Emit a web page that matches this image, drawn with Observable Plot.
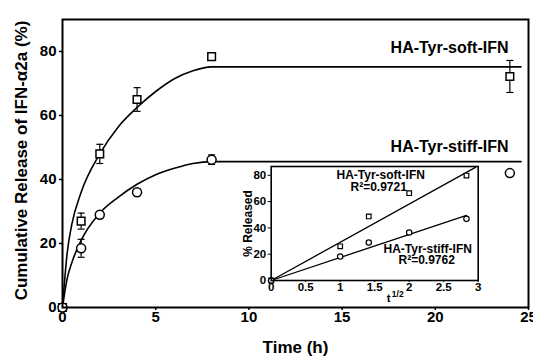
<!DOCTYPE html>
<html><head><meta charset="utf-8">
<script src="https://cdn.jsdelivr.net/npm/d3@7"></script>
<script src="https://cdn.jsdelivr.net/npm/@observablehq/plot@0.6"></script>
<style>
body{margin:0;background:#fff;}
#wrap{position:relative;width:533px;height:358px;overflow:hidden;}
#wrap svg{position:absolute;}
</style></head><body><div id="wrap"></div>
<script>
// ---- main chart data ----
const times = [0, 1, 2, 4, 8, 24];
const softRelease = [0, 27, 48, 65, 78.4, 72.2];
const softError = [0, 2.5, 3, 3.7, 1, 5];
const stiffRelease = [0, 18.5, 29, 36, 46.2, 42];
const stiffError = [0, 2.8, 1, 1, 1.5, 0];

// fitted curves (knots)
const curveTimes = [0, 0.25, 0.5, 1, 2, 3, 4, 5, 6, 7, 8, 24.6];
const softCurve = [0, 17, 26, 36, 48, 56.5, 62.5, 67.5, 71.5, 74, 75.2, 75.2];
const stiffCurve = [0, 9, 14, 21, 29.5, 34.5, 38.5, 41.5, 43.5, 45, 45.6, 45.6];

const xTicks = [0, 5, 10, 15, 20, 25];
const yTicks = [0, 20, 40, 60, 80];
const softName = "HA-Tyr-soft-IFN";
const stiffName = "HA-Tyr-stiff-IFN";
const yTitle = "Cumulative Release of IFN-\u03b12a (%)";
const xTitle = "Time (h)";

// ---- inset data ----
const sqrtTimes = [0, 1, 1.414, 2, 2.83];
const insetSoft = [0, 26, 48.7, 66.4, 79.8];
const insetStiff = [0, 18.2, 28.9, 36.5, 46.9];
const softFitX = [0, 2.96];
const softFitY = [0, 86];
const stiffFitX = [0, 2.83];
const stiffFitY = [0, 49.5];
const insetXTicks = [0, 0.5, 1, 1.5, 2, 2.5, 3];
const insetYTicks = [0, 20, 40, 60, 80];
const softR2 = "R\u00b2=0.9721";
const stiffR2 = "R\u00b2=0.9762";
const insetYTitle = "% Released";
const insetXTitle = "t";
const insetXSup = "1/2";

// ---- tables ----
const soft = times.map((t, i) => ({t, v: softRelease[i], e: softError[i]}));
const stiff = times.map((t, i) => ({t, v: stiffRelease[i], e: stiffError[i]}));
const errs = [...soft, ...stiff].filter(d => d.e > 0).map(d => ({t: d.t, lo: d.v - d.e, hi: d.v + d.e}));
const softC = curveTimes.map((t, i) => ({t, v: softCurve[i]}));
const stiffC = curveTimes.map((t, i) => ({t, v: stiffCurve[i]}));

const cap = {draw(ctx) { ctx.moveTo(-3.5, 0); ctx.lineTo(3.5, 0); }};
const font = "'Liberation Sans', Arial, Helvetica, sans-serif";
const T = {text: d => d, textAnchor: "middle", lineAnchor: "middle"};

const main = Plot.plot({
  width: 533, height: 358,
  marginLeft: 62, marginRight: 5, marginTop: 19, marginBottom: 51,
  x: {domain: [0, 25]},
  y: {domain: [0, 90]},
  style: {fontFamily: font, fontWeight: "bold", color: "black", background: "transparent"},
  marks: [
    Plot.axisX({ticks: xTicks, tickSize: 3, tickPadding: 1, fontSize: 15, label: null, strokeWidth: 1.5}),
    Plot.axisY({ticks: yTicks, tickSize: 3, tickPadding: 3, fontSize: 15, label: null, strokeWidth: 1.5}),
    Plot.line(softC, {x: "t", y: "v", curve: "monotone-x", stroke: "black", strokeWidth: 1.6}),
    Plot.line(stiffC, {x: "t", y: "v", curve: "monotone-x", stroke: "black", strokeWidth: 1.6}),
    Plot.ruleX(errs, {x: "t", y1: "lo", y2: "hi", stroke: "black", strokeWidth: 1.2}),
    Plot.dot(errs, {x: "t", y: "hi", symbol: cap, stroke: "black", strokeWidth: 1.2}),
    Plot.dot(errs, {x: "t", y: "lo", symbol: cap, stroke: "black", strokeWidth: 1.2}),
    Plot.dot(soft, {x: "t", y: "v", symbol: "square", r: 4.3, fill: "white", stroke: "black", strokeWidth: 1.5}),
    Plot.dot(stiff, {x: "t", y: "v", symbol: "circle", r: 4.5, fill: "white", stroke: "black", strokeWidth: 1.5}),
    Plot.frame({stroke: "black", strokeWidth: 2}),
    Plot.text([softName], {text: d => d, lineAnchor: "middle", frameAnchor: "top-right", textAnchor: "end", dx: -20, dy: 28, fontSize: 16}),
    Plot.text([stiffName], {text: d => d, lineAnchor: "middle", frameAnchor: "top-right", textAnchor: "end", dx: -20, dy: 127, fontSize: 16}),
    Plot.text([yTitle], {...T, frameAnchor: "left", rotate: -90, dx: -41, dy: -3, fontSize: 17}),
    Plot.text([xTitle], {...T, frameAnchor: "bottom", dy: 40, fontSize: 17})
  ]
});
main.style.left = "0px"; main.style.top = "0px";

const iSoft = sqrtTimes.map((x, i) => ({x, v: insetSoft[i]}));
const iStiff = sqrtTimes.map((x, i) => ({x, v: insetStiff[i]}));
const iSoftFit = softFitX.map((x, i) => ({x, v: softFitY[i]}));
const iStiffFit = stiffFitX.map((x, i) => ({x, v: stiffFitY[i]}));

const inset = Plot.plot({
  width: 256, height: 145,
  marginLeft: 38.7, marginRight: 10.3, marginTop: 6, marginBottom: 25,
  x: {domain: [0, 3]},
  y: {domain: [0, 86.7]},
  style: {fontFamily: font, fontWeight: "bold", color: "black", background: "transparent"},
  marks: [
    Plot.frame({fill: "white"}),
    Plot.axisX({ticks: insetXTicks, tickFormat: d => String(d), tickSize: 2, tickPadding: 0, fontSize: 11.5, label: null}),
    Plot.axisY({ticks: insetYTicks, tickFormat: d => String(d), tickSize: 3, tickPadding: 2, fontSize: 11.5, label: null}),
    Plot.line(iSoftFit, {x: "x", y: "v", stroke: "black", strokeWidth: 1.3}),
    Plot.line(iStiffFit, {x: "x", y: "v", stroke: "black", strokeWidth: 1.3}),
    Plot.dot(iSoft, {x: "x", y: "v", symbol: "square", r: 2.6, fill: "white", stroke: "black", strokeWidth: 1.2}),
    Plot.dot(iStiff, {x: "x", y: "v", symbol: "circle", r: 2.7, fill: "white", stroke: "black", strokeWidth: 1.2}),
    Plot.frame({stroke: "black", strokeWidth: 1.6}),
    Plot.text([softName], {...T, frameAnchor: "top", dx: 6, dy: 9, fontSize: 12}),
    Plot.text([softR2], {...T, frameAnchor: "top", dx: 4, dy: 21, fontSize: 12}),
    Plot.text([stiffName], {...T, frameAnchor: "top", dx: 53, dy: 83, fontSize: 12}),
    Plot.text([stiffR2], {...T, frameAnchor: "top", dx: 52, dy: 94, fontSize: 12}),
    Plot.text([insetYTitle], {...T, frameAnchor: "left", rotate: -90, dx: -23, fontSize: 12}),
    Plot.text([insetXTitle], {...T, frameAnchor: "bottom", dx: 14, dy: 18, fontSize: 11.5}),
    Plot.text([insetXSup], {...T, frameAnchor: "bottom", dx: 23, dy: 14, fontSize: 8.5})
  ]
});
inset.style.left = "232px"; inset.style.top = "160px";

const wrap = document.getElementById("wrap");
wrap.appendChild(main);
wrap.appendChild(inset);
</script></body></html>
